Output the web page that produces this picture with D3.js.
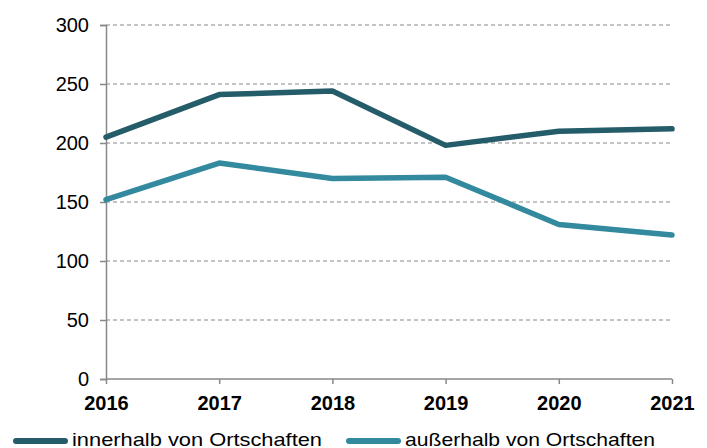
<!DOCTYPE html>
<html>
<head>
<meta charset="utf-8">
<script src="https://cdn.jsdelivr.net/npm/d3@7"></script>
<style>
  body { margin: 0; background: #fff; }
  svg { display: block; font-family: "Liberation Sans", Arial, sans-serif; }
</style>
</head>
<body>
<svg width="707" height="448"></svg>
<script>
// data
let years = [2016, 2017, 2018, 2019, 2020, 2021];
let innerhalb = [205, 241, 244, 198, 210, 212];
let ausserhalb = [152, 183, 170, 171, 131, 122];
let yTicks = [0, 50, 100, 150, 200, 250, 300];
let seriesNames = ["innerhalb von Ortschaften", "außerhalb von Ortschaften"];
let seriesColors = ["#245c69", "#33899e"];

let svg = d3.select('svg');
let plotLeft = 106, plotRight = 672, plotTop = 25, plotBottom = 379;

let xScale = d3.scalePoint()
  .domain(years)
  .range([plotLeft, plotRight]);

let yScale = d3.scaleLinear()
  .domain([0, 300])
  .range([plotBottom, plotTop]);

// dashed grid lines
svg.append("g")
  .selectAll("line")
  .data(yTicks.filter(d => d > 0))
  .enter()
  .append("line")
  .attr("x1", plotLeft)
  .attr("x2", plotRight)
  .attr("y1", d => yScale(d))
  .attr("y2", d => yScale(d))
  .attr("stroke", "#888")
  .attr("stroke-width", 1)
  .attr("stroke-dasharray", "4,3");

// y axis
let yAxis = svg.append("g")
  .attr("transform", "translate(" + plotLeft + ",0)")
  .call(d3.axisLeft(yScale).tickValues(yTicks).tickSize(6).tickPadding(11));
yAxis.select(".domain").attr("stroke", "#888").attr("stroke-width", 1.5);
yAxis.selectAll(".tick line").attr("stroke", "#888").attr("stroke-width", 1.5);
yAxis.selectAll(".tick text")
  .attr("fill", "#000")
  .style("font-size", "20px")
  .style("font-family", "Liberation Sans, Arial, sans-serif");

// x axis
let xAxis = svg.append("g")
  .attr("transform", "translate(0," + plotBottom + ")")
  .call(d3.axisBottom(xScale).tickSize(5).tickSizeOuter(0).tickPadding(12));
xAxis.select(".domain").attr("stroke", "#888").attr("stroke-width", 1.5).attr("d", "M" + plotLeft + ",0H" + plotRight);
xAxis.selectAll(".tick line").attr("stroke", "#888").attr("stroke-width", 1.5);
xAxis.selectAll(".tick text")
  .attr("fill", "#000")
  .style("font-size", "20px")
  .style("font-weight", "bold")
  .style("font-family", "Liberation Sans, Arial, sans-serif");

// lines
let line = d3.line()
  .x((d, i) => xScale(years[i]))
  .y(d => yScale(d));

[innerhalb, ausserhalb].forEach((vals, k) => {
  svg.append("path")
    .datum(vals)
    .attr("fill", "none")
    .attr("stroke", seriesColors[k])
    .attr("stroke-width", 5.5)
    .attr("stroke-linecap", "round")
    .attr("stroke-linejoin", "round")
    .attr("d", line);
});

// legend
let legendX = [16, 349];
let legend = svg.append("g");
seriesNames.forEach((name, k) => {
  legend.append("line")
    .attr("x1", legendX[k])
    .attr("x2", legendX[k] + 49)
    .attr("y1", 441)
    .attr("y2", 441)
    .attr("stroke", seriesColors[k])
    .attr("stroke-width", 6)
    .attr("stroke-linecap", "round");
  legend.append("text")
    .attr("x", legendX[k] + 56)
    .attr("y", 446)
    .attr("textLength", 250)
    .attr("lengthAdjust", "spacingAndGlyphs")
    .style("font-size", "19px")
    .attr("fill", "#000")
    .text(name);
});
</script>
</body>
</html>
